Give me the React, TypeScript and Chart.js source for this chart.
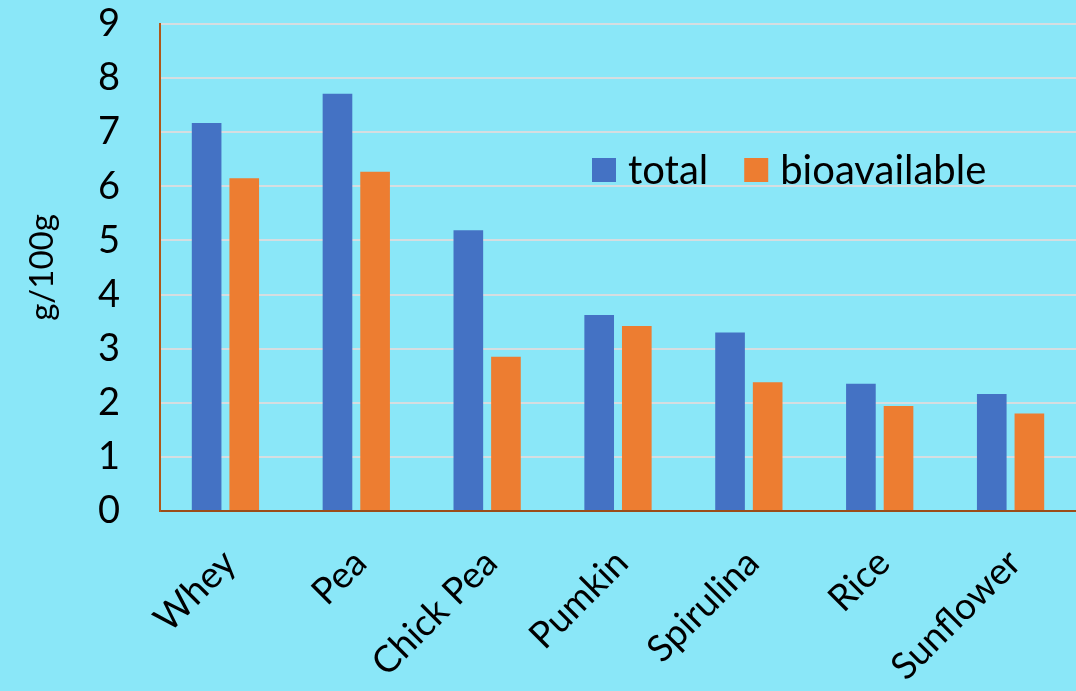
import { useEffect, useRef } from "react";
import { Chart, registerables } from "chart.js";

Chart.register(...registerables);

// Protein sources on the category axis
const categories = ["Whey", "Pea", "Chick Pea", "Pumkin", "Spirulina", "Rice", "Sunflower"];

// g/100g, total content per source
const totalValues = [7.17, 7.71, 5.19, 3.62, 3.3, 2.35, 2.16];

// g/100g, bioavailable content per source
const bioavailableValues = [6.15, 6.27, 2.85, 3.42, 2.38, 1.94, 1.8];

const seriesLabels = ["total", "bioavailable"];
const seriesColors = ["#4472c4", "#ed7d31"];

const yMin = 0;
const yMax = 9;
const yStep = 1;

const FONT = "Lato, 'Open Sans', sans-serif";
const BG = "#8ae7f8";

// Legend drawn inside the plot area, to the right of the tallest bars
const inlineLegend = {
  id: "inlineLegend",
  afterDraw(chart: any) {
    const { ctx, chartArea } = chart;
    const box = 24;
    const textGap = 12;
    const itemGap = 36;
    let x = chartArea.left + 432;
    const cy = chartArea.top + 146;
    ctx.save();
    ctx.font = `40px ${FONT}`;
    ctx.textBaseline = "middle";
    ctx.textAlign = "left";
    chart.data.datasets.forEach((ds: any) => {
      ctx.fillStyle = ds.backgroundColor;
      ctx.fillRect(x, cy - box / 2, box, box);
      x += box + textGap;
      ctx.fillStyle = "#000";
      ctx.fillText(ds.label, x, cy + 1);
      x += ctx.measureText(ds.label).width + itemGap;
    });
    ctx.restore();
  },
};

export default function App() {
  const canvasRef = useRef<HTMLCanvasElement | null>(null);

  useEffect(() => {
    let chart: Chart | null = null;
    let cancelled = false;

    const build = () => {
      if (cancelled || !canvasRef.current) return;
      chart = new Chart(canvasRef.current, {
        type: "bar",
        data: {
          labels: categories,
          datasets: [
            {
              label: seriesLabels[0],
              data: totalValues,
              backgroundColor: seriesColors[0],
              borderWidth: 0,
            },
            {
              label: seriesLabels[1],
              data: bioavailableValues,
              backgroundColor: seriesColors[1],
              borderWidth: 0,
            },
          ],
        },
        options: {
          responsive: false,
          animation: false,
          layout: { padding: { top: 24, left: 0, right: 0, bottom: 0 } },
          datasets: {
            bar: { categoryPercentage: 0.575, barPercentage: 0.788 },
          },
          plugins: {
            legend: { display: false },
            tooltip: { enabled: false },
          },
          scales: {
            x: {
              grid: { display: false, drawTicks: false },
              border: { display: true, color: "#9b4d1a", width: 2 },
              ticks: {
                color: "#000",
                font: { family: FONT, size: 37 },
                minRotation: 45,
                maxRotation: 45,
                padding: 30,
                labelOffset: 4,
              },
              afterFit(scale: any) {
                scale.height = 180;
                scale.paddingTop = 0;
                scale.paddingBottom = 0;
              },
            },
            y: {
              min: yMin,
              max: yMax,
              grid: { color: "#d6dde0", lineWidth: 2, drawTicks: false },
              border: { display: true, color: "#b0571a", width: 2 },
              ticks: {
                stepSize: yStep,
                color: "#000",
                font: { family: FONT, size: 38 },
                padding: 40,
              },
              title: {
                display: true,
                text: "g/100g",
                color: "#000",
                font: { family: FONT, size: 33 },
                padding: { top: 23, bottom: 0 },
              },
              afterFit(scale: any) {
                scale.width = 160;
                scale.paddingTop = 0;
                scale.paddingBottom = 0;
              },
            },
          },
        },
        plugins: [inlineLegend],
      });
    };

    if (document.fonts && document.fonts.load) {
      Promise.all([document.fonts.load(`38px Lato`)]).then(build, build);
    } else {
      build();
    }

    return () => {
      cancelled = true;
      if (chart) chart.destroy();
    };
  }, []);

  return (
    <div
      style={{
        position: "fixed",
        left: 0,
        top: 0,
        width: 1076,
        height: 691,
        background: BG,
        overflow: "hidden",
      }}
    >
      <canvas ref={canvasRef} width={1076} height={691} style={{ display: "block" }} />
    </div>
  );
}
